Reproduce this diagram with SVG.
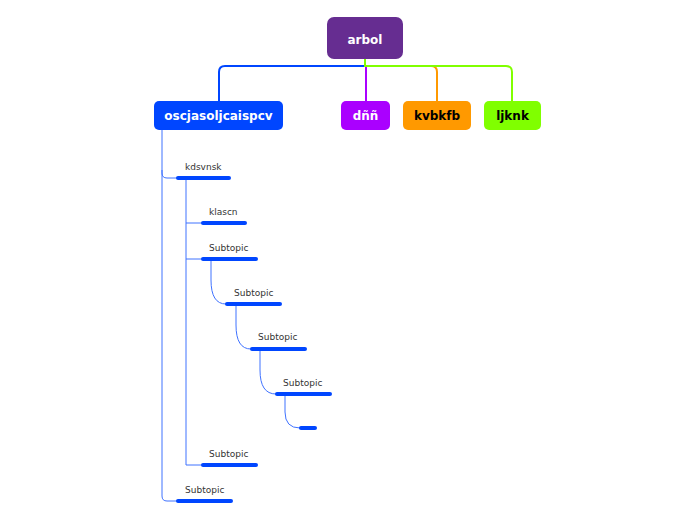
<svg xmlns="http://www.w3.org/2000/svg" width="696" height="520" viewBox="0 0 696 520">
<style>
.t{font-family:"DejaVu Sans","Liberation Sans",sans-serif;font-weight:bold;font-size:12px;text-anchor:middle}
.s{font-family:"DejaVu Sans","Liberation Sans",sans-serif;font-size:9px;fill:#333}
.bar{fill:#0046ff}
.c{fill:none;stroke:#3f72ff;stroke-width:1}
.m{fill:none;stroke-width:2}
</style>
<rect width="696" height="520" fill="#fff"/>
<g id="connectors">
<path class="m" stroke="#0046ff" d="M365 59 V66 H225 Q219 66 219 72 V101"/>
<path class="m" stroke="#aa00ff" d="M366 66 V101"/>
<path class="m" stroke="#ff9900" d="M366 66 H431 Q437 66 437 72 V101"/>
<path class="m" stroke="#80ff00" d="M365 59 V66 H506 Q512 66 512 72 V101"/>
<path class="c" stroke="#6b93ff" stroke-width="1.3" d="M162 130 V173 Q162 178 167 178 H177"/>
<path class="c" stroke="#6b93ff" stroke-width="1.3" d="M162 170 V496 Q162 501 167 501 H177"/>
<path class="c" d="M186 180 V465 H202"/>
<path class="c" d="M186 223 H202"/>
<path class="c" d="M186 259 H202"/>
<path class="c" d="M211 261 V280 Q211 304 226 304"/>
<path class="c" d="M236 306 V325 Q236 349 251 349"/>
<path class="c" d="M260 351 V370 Q260 394 276 394"/>
<path class="c" d="M285 396 V412 Q285 428 300 428"/>
</g>
<g id="root"><rect x="327" y="17" width="76" height="42" rx="7" fill="#662d91"/><text class="t" x="365" y="44" fill="#fff" font-size="15">arbol</text></g>
<g id="n1"><rect x="154" y="101" width="129" height="29" rx="5" fill="#0046ff"/><text class="t" x="218.5" y="120" fill="#fff">oscjasoljcaispcv</text></g>
<g id="n2"><rect x="341" y="101" width="49" height="29" rx="5" fill="#aa00ff"/><text class="t" x="365.5" y="120" fill="#fff">dññ</text></g>
<g id="n3"><rect x="403" y="101" width="68" height="29" rx="5" fill="#ff9900"/><text class="t" x="437" y="120" fill="#000">kvbkfb</text></g>
<g id="n4"><rect x="484" y="101" width="57" height="29" rx="5" fill="#80ff00"/><text class="t" x="512.5" y="120" fill="#000">ljknk</text></g>
<g id="s1"><rect class="bar" x="176" y="176" width="55" height="4" rx="2"/><text class="s" x="185" y="170">kdsvnsk</text></g>
<g id="s2"><rect class="bar" x="201" y="221" width="46" height="4" rx="2"/><text class="s" x="209" y="215">klascn</text></g>
<g id="s3"><rect class="bar" x="201" y="257" width="57" height="4" rx="2"/><text class="s" x="209" y="251">Subtopic</text></g>
<g id="s4"><rect class="bar" x="225" y="302" width="57" height="4" rx="2"/><text class="s" x="234" y="296">Subtopic</text></g>
<g id="s5"><rect class="bar" x="250" y="347" width="57" height="4" rx="2"/><text class="s" x="258" y="340">Subtopic</text></g>
<g id="s6"><rect class="bar" x="275" y="392" width="57" height="4" rx="2"/><text class="s" x="283" y="386">Subtopic</text></g>
<g id="s7"><rect class="bar" x="299" y="426" width="18" height="4" rx="2"/></g>
<g id="s8"><rect class="bar" x="201" y="463" width="57" height="4" rx="2"/><text class="s" x="209" y="457">Subtopic</text></g>
<g id="s9"><rect class="bar" x="176" y="499" width="57" height="4" rx="2"/><text class="s" x="185" y="493">Subtopic</text></g>
</svg>
